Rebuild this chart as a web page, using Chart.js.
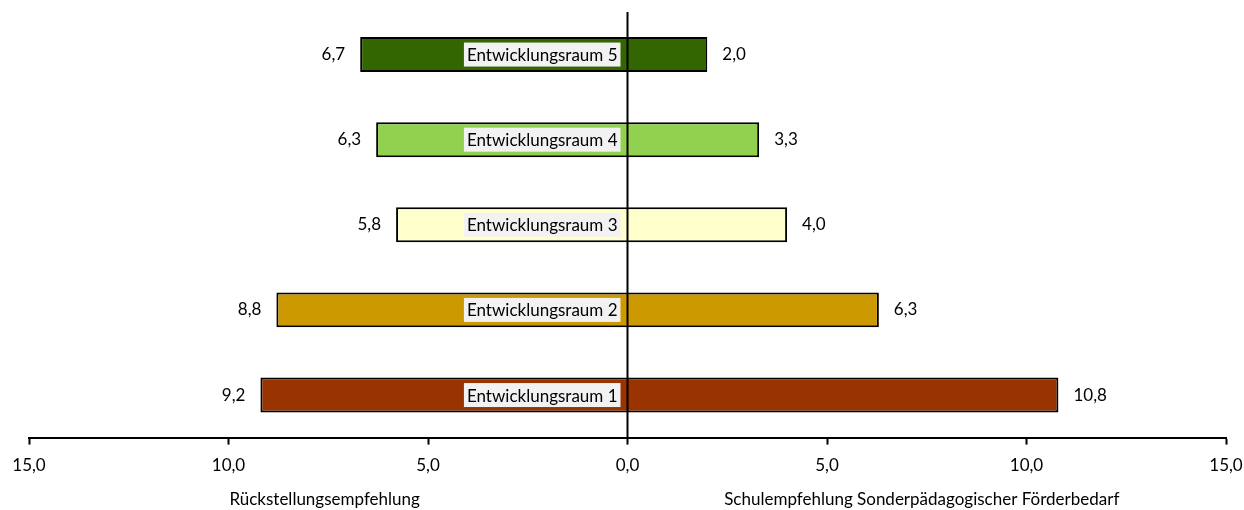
<!DOCTYPE html>
<html lang="de">
<head>
<meta charset="utf-8">
<title>Entwicklungsräume</title>
<script src="https://cdn.jsdelivr.net/npm/chart.js@4.4.1/dist/chart.umd.min.js"></script>
<style>
  html, body { margin: 0; padding: 0; background: #ffffff; }
  #wrap { width: 1244px; height: 510px; position: relative; }
</style>
</head>
<body>
<div id="wrap"><canvas id="chart" width="1244" height="510"></canvas></div>
<script>
// Categories, top to bottom
const categories = ['Entwicklungsraum 5', 'Entwicklungsraum 4', 'Entwicklungsraum 3', 'Entwicklungsraum 2', 'Entwicklungsraum 1'];
// Rückstellungsempfehlung (drawn to the left of zero)
const rueckstellung = [6.7, 6.3, 5.8, 8.8, 9.2];
// Schulempfehlung Sonderpädagogischer Förderbedarf (drawn to the right of zero)
const foerderbedarf = [2.0, 3.3, 4.0, 6.3, 10.8];
// Bar fill per category
const barColors = ['#336600', '#92D050', '#FFFFCC', '#CC9900', '#993300'];
// Axis ticks and titles
const tickValues = [-15, -10, -5, 0, 5, 10, 15];
const leftTitle = 'Rückstellungsempfehlung';
const rightTitle = 'Schulempfehlung Sonderpädagogischer Förderbedarf';

const FONT = 'Lato, "Open Sans", sans-serif';
const FONT_SIZE = 17;
const fmt = v => Math.abs(v).toFixed(1).replace('.', ',');

// Draws value labels, category labels, the zero line and the two axis titles
const annotate = {
  id: 'annotate',
  afterDatasetsDraw(chart) {
    const { ctx, chartArea, scales } = chart;
    const x = scales.x, y = scales.y;
    ctx.save();
    ctx.font = FONT_SIZE + 'px ' + FONT;
    ctx.fillStyle = '#000';
    ctx.textBaseline = 'middle';
    const x0 = x.getPixelForValue(0);
    categories.forEach((cat, i) => {
      const yc = y.getPixelForValue(i);
      // left value
      const xl = x.getPixelForValue(-rueckstellung[i]);
      ctx.textAlign = 'right';
      ctx.fillText(fmt(rueckstellung[i]), xl - 15, yc);
      // right value
      const xr = x.getPixelForValue(foerderbedarf[i]);
      ctx.textAlign = 'left';
      ctx.fillText(fmt(foerderbedarf[i]), xr + 15, yc);
      // category label box
      const w = ctx.measureText(cat).width;
      const right = x0 - 10;
      ctx.fillStyle = '#F2F2F2';
      ctx.fillRect(right - w - 3, yc - 12, w + 6, 24);
      ctx.fillStyle = '#000';
      ctx.textAlign = 'right';
      ctx.fillText(cat, right, yc + 1);
    });
    // zero line
    ctx.strokeStyle = '#000';
    ctx.lineWidth = 2;
    ctx.beginPath();
    ctx.moveTo(x0, chartArea.top);
    ctx.lineTo(x0, chartArea.bottom);
    ctx.stroke();
    // axis titles
    ctx.textAlign = 'center';
    ctx.textBaseline = 'middle';
    ctx.fillText(leftTitle, x.getPixelForValue(-7.59), 500);
    ctx.fillText(rightTitle, x.getPixelForValue(7.375), 500);
    ctx.restore();
  }
};

new Chart(document.getElementById('chart'), {
  type: 'bar',
  data: {
    labels: categories,
    datasets: [
      {
        label: leftTitle,
        data: rueckstellung.map(v => -v),
        backgroundColor: barColors,
        borderColor: '#000',
        borderWidth: 2,
        borderSkipped: 'start'
      },
      {
        label: rightTitle,
        data: foerderbedarf,
        backgroundColor: barColors,
        borderColor: '#000',
        borderWidth: 2,
        borderSkipped: 'start'
      }
    ]
  },
  options: {
    indexAxis: 'y',
    responsive: false,
    animation: false,
    devicePixelRatio: 1,
    layout: { padding: { left: 29, right: 18, top: 12, bottom: 23 } },
    plugins: { legend: { display: false }, tooltip: { enabled: false } },
    datasets: { bar: { categoryPercentage: 1, barPercentage: 0.41 } },
    scales: {
      x: {
        stacked: true,
        min: -15,
        max: 15,
        afterBuildTicks: s => { s.ticks = tickValues.map(v => ({ value: v })); },
        afterFit: s => { s.paddingLeft = 0; s.paddingRight = 0; },
        ticks: {
          callback: v => fmt(v),
          color: '#000',
          font: { family: FONT, size: FONT_SIZE },
          padding: 11,
          maxRotation: 0
        },
        grid: {
          drawOnChartArea: false,
          drawTicks: true,
          tickLength: 7,
          tickColor: '#000',
          tickWidth: 2
        },
        border: { display: true, color: '#000', width: 2 }
      },
      y: {
        stacked: true,
        display: false
      }
    }
  },
  plugins: [annotate]
});
</script>
</body>
</html>
